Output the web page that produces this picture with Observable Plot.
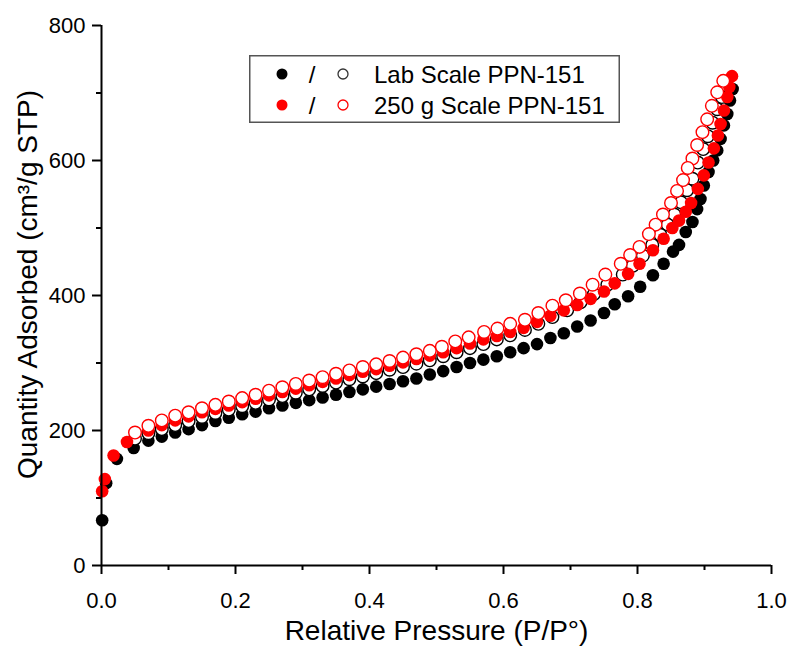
<!DOCTYPE html>
<html><head><meta charset="utf-8">
<script src="https://cdn.jsdelivr.net/npm/d3@7"></script>
<script src="https://cdn.jsdelivr.net/npm/@observablehq/plot@0.6"></script>
<style>
body{margin:0;background:#fff;}
#wrap{position:relative;width:788px;height:648px;font-family:"Liberation Sans",Arial,sans-serif;}
#legend{position:absolute;left:249px;top:55px;}
</style></head><body><div id="wrap"><div id="chart"></div><div id="legend"></div></div>
<script>
// Lab scale, adsorption (filled black)
const labAdsP = [0.001,0.007,0.023,0.048,0.07,0.09,0.11,0.13,0.15,0.17,0.19,0.21,0.23,0.25,0.27,0.29,0.31,0.33,0.35,0.37,0.39,0.41,0.43,0.45,0.47,0.49,0.51,0.53,0.55,0.57,0.59,0.61,0.63,0.65,0.67,0.69,0.71,0.73,0.75,0.766,0.786,0.804,0.823,0.839,0.853,0.862,0.872,0.882,0.889,0.894,0.899,0.906,0.913,0.919,0.924,0.929,0.934,0.938,0.942];
const labAdsQ = [67,122,158,174,185,191,197,202,208,214,219,224,228,233,237,241,245,249,253,257,261,265,269,273,277,283,288,294,300,305,310,316,322,328,337,344,354,363,374,387,399,413,430,447,465,475,494,509,528,543,563,583,600,615,632,652,669,689,706];
// Lab scale, desorption (open black)
const labDesP = [0.933,0.926,0.919,0.912,0.905,0.898,0.890,0.882,0.874,0.865,0.855,0.845,0.834,0.822,0.808,0.793,0.778,0.755,0.735,0.715,0.695,0.673,0.652,0.632,0.610,0.590,0.570,0.550,0.530,0.510,0.49,0.47,0.45,0.43,0.41,0.39,0.37,0.35,0.33,0.31,0.29,0.27,0.25,0.23,0.21,0.19,0.17,0.15,0.13,0.11,0.09,0.07,0.05];
const labDesQ = [711,694,676,656,636,617,597,573,556,538,520,505,490,475,459,444,431,416,402,390,378,368,358,349,341,335,328,322,316,310,304,299,294,290,285,280,276,271,266,261,256,251,246,241,236,231,226,220,214,208,202,196,188];
// 250 g scale, adsorption (filled red)
const bigAdsP = [0.001,0.005,0.018,0.038,0.07,0.09,0.11,0.13,0.15,0.17,0.19,0.21,0.23,0.25,0.27,0.29,0.31,0.33,0.35,0.37,0.39,0.41,0.43,0.45,0.47,0.49,0.51,0.53,0.55,0.57,0.59,0.61,0.63,0.65,0.67,0.69,0.71,0.73,0.75,0.766,0.786,0.803,0.823,0.839,0.852,0.862,0.872,0.880,0.890,0.899,0.906,0.914,0.920,0.924,0.929,0.934,0.937,0.941];
const bigAdsQ = [110,128,163,183,200,208,215,221,227,232,237,242,247,252,257,262,267,272,277,282,287,291,296,301,306,311,316,322,329,335,340,346,352,361,370,378,386,395,406,418,432,447,467,484,500,511,524,537,558,578,597,618,637,654,674,694,709,725];
// 250 g scale, desorption (open red)
const bigDesP = [0.928,0.919,0.911,0.904,0.897,0.889,0.882,0.875,0.868,0.859,0.850,0.838,0.827,0.817,0.803,0.789,0.775,0.752,0.733,0.714,0.693,0.673,0.652,0.632,0.610,0.591,0.571,0.548,0.528,0.508,0.49,0.47,0.45,0.43,0.41,0.39,0.37,0.35,0.33,0.31,0.29,0.27,0.25,0.23,0.21,0.19,0.17,0.15,0.13,0.11,0.09,0.07,0.05];
const bigDesQ = [718,701,681,661,642,623,603,589,571,555,537,520,505,491,472,460,447,431,416,403,393,385,374,364,358,351,346,338,332,324,318,313,308,303,298,294,289,284,279,274,269,264,259,253,248,243,238,233,227,222,215,207,197];

const seriesNames = ["Lab Scale PPN-151", "250 g Scale PPN-151"];
const seriesColors = ["#000000", "#ff0000"];
const xMajorTicks = [0, 0.2, 0.4, 0.6, 0.8, 1.0];
const xMinorTicks = [0.1, 0.3, 0.5, 0.7, 0.9];
const yMajorTicks = [0, 200, 400, 600, 800];
const yMinorTicks = [100, 300, 500, 700];
const xTitle = "Relative Pressure (P/P°)";
const yTitle = "Quantity Adsorbed (cm³/g STP)";

const rows = (P, Q) => P.map((p, i) => ({p, q: Q[i]}));
const labAds = rows(labAdsP, labAdsQ), labDes = rows(labDesP, labDesQ);
const bigAds = rows(bigAdsP, bigAdsQ), bigDes = rows(bigDesP, bigDesQ);
const font = "'Liberation Sans', Arial, sans-serif";
const R = 6.3;

const chart = Plot.plot({
  width: 788, height: 648,
  marginLeft: 101, marginRight: 17, marginTop: 25, marginBottom: 83,
  style: {fontFamily: font, background: "#fff", color: "#000", overflow: "visible"},
  x: {domain: [0, 1]},
  y: {domain: [0, 800]},
  marks: [
    Plot.dot(labAds, {x: "p", y: "q", r: R, fill: seriesColors[0], stroke: "none"}),
    Plot.dot(labDes, {x: "p", y: "q", r: R, fill: "#fff", stroke: seriesColors[0], strokeWidth: 1.4}),
    Plot.dot(bigAds, {x: "p", y: "q", r: R, fill: seriesColors[1], stroke: "none"}),
    Plot.dot(bigDes, {x: "p", y: "q", r: R, fill: "#fff", stroke: seriesColors[1], strokeWidth: 1.4}),
    Plot.ruleX([0], {stroke: "#000", strokeWidth: 2}),
    Plot.ruleY([0], {stroke: "#000", strokeWidth: 2}),
    Plot.axisY({ticks: yMajorTicks, tickSize: 9, tickPadding: 7, fontSize: 22, tickFormat: d3.format("d"), label: null, strokeWidth: 2}),
    Plot.axisY({ticks: yMinorTicks, tickSize: 5, text: null, label: null, strokeWidth: 2}),
    Plot.axisX({ticks: xMajorTicks, tickSize: 9, tickPadding: 18, fontSize: 22, tickFormat: d3.format(".1f"), label: null, strokeWidth: 2}),
    Plot.axisX({ticks: xMinorTicks, tickSize: 5, text: null, label: null, strokeWidth: 2}),
    Plot.text([xTitle], {frameAnchor: "bottom", dy: 74, fontSize: 28, fill: "#000", textAnchor: "middle"}),
    Plot.text([yTitle], {frameAnchor: "left", dx: -73, dy: -11, rotate: -90, fontSize: 28, fill: "#000", textAnchor: "middle"})
  ]
});
document.getElementById("chart").appendChild(chart);

// Legend (drawn with d3 from the series names/colours)
const lw = 371, lh = 68;
const lsvg = d3.select("#legend").append("svg").attr("width", lw).attr("height", lh)
  .style("font-family", font);
lsvg.append("rect").attr("x", 0.75).attr("y", 0.75).attr("width", lw - 1.5).attr("height", lh - 1.5)
  .attr("fill", "#fff").attr("stroke", "#555").attr("stroke-width", 1.5);
seriesNames.forEach((name, i) => {
  const cy = 19 + i * 31;
  lsvg.append("circle").attr("cx", 33).attr("cy", cy).attr("r", 5.5).attr("fill", seriesColors[i]);
  lsvg.append("text").attr("x", 63).attr("y", cy).attr("text-anchor", "middle").attr("dy", "0.36em")
    .attr("font-size", 24).text("/");
  lsvg.append("circle").attr("cx", 94).attr("cy", cy).attr("r", 5).attr("fill", "#fff")
    .attr("stroke", i === 0 ? "#333" : seriesColors[i]).attr("stroke-width", 1.3);
  lsvg.append("text").attr("x", 125).attr("y", cy).attr("dy", "0.36em").attr("font-size", 24).text(name);
});
</script>
</body></html>
